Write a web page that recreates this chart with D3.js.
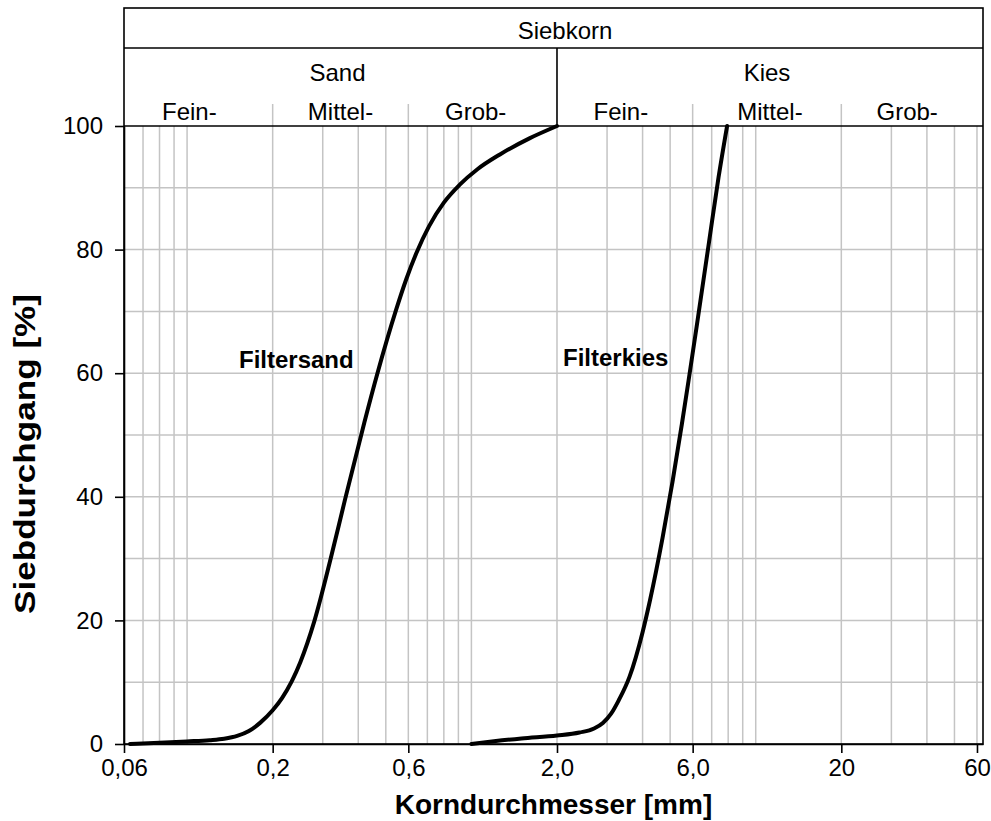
<!DOCTYPE html>
<html>
<head>
<meta charset="utf-8">
<script src="https://cdn.jsdelivr.net/npm/d3@7"></script>
<style>
  html, body { margin: 0; padding: 0; background: #fff; }
  svg { display: block; font-family: Arial, "Liberation Sans", sans-serif; }
</style>
</head>
<body>
<svg id="chart" width="991" height="821"></svg>
<script>
// Grain size distribution (Sieblinie) for filter sand and filter gravel

// x: grain diameter [mm], y: passing [%]
const sandDiameter = [0.063, 0.08, 0.1,  0.12, 0.135, 0.15, 0.165, 0.181, 0.2,  0.216, 0.25, 0.28, 0.32, 0.36, 0.42, 0.466, 0.543, 0.59, 0.64, 0.71, 0.8,  0.91, 1.05, 1.26, 1.6, 2.0];
const sandPassing  = [0,     0.2,  0.42, 0.62, 0.85,  1.3,  2.1,   3.46,  5.45, 7.46,  13.2, 19.8, 30,   39.7, 52,   59.8,  70.2,  75.2, 79.4, 83.8, 87.6, 90.5, 93,   95.4, 98,  100];

const gravelDiameter = [1.0, 1.2,  1.5, 2.0,  2.4,  2.7, 2.9,  3.1,  3.3, 3.6,  4.0,  4.25, 4.7,  5.1,  5.5,  5.8,  6.2,  6.85, 7.4,  7.93];
const gravelPassing  = [0,   0.44, 0.9, 1.36, 1.85, 2.5, 3.4,  4.9,  7.1, 10.9, 18.1, 23.3, 33.3, 42.5, 51.8, 58.7, 67.6, 81.2, 91.7, 100];

// axis ticks
const xTickValues = [0.06, 0.2, 0.6, 2, 6, 20, 60];
const xTickLabels = ["0,06", "0,2", "0,6", "2,0", "6,0", "20", "60"];
const yTickValues = [0, 20, 40, 60, 80, 100];

// soil classification boundaries [mm]
const classBounds = [0.06, 0.2, 0.6, 2, 6, 20, 63];
const mainClasses = ["Sand", "Kies"];
const subClasses  = ["Fein-", "Mittel-", "Grob-", "Fein-", "Mittel-", "Grob-"];

// layout
const margin = { left: 124, right: 983, top: 126, bottom: 744 };
const headerTop = 8, headerMid = 48, subTop = 104;
const subLabelNudge = [-9, 0, -7, -4, 3, -5];

const svg = d3.select("#chart");

const x = d3.scaleLog().domain([0.06, 63]).range([margin.left, margin.right]);
const y = d3.scaleLinear().domain([0, 100]).range([margin.bottom, margin.top]);

const gridColor = "#c4c4c4";

// minor log grid 1..9 x 10^k
const gridX = [];
[0.01, 0.1, 1, 10].forEach(dec => {
  for (let m = 1; m <= 9; m++) {
    const v = +(m * dec).toPrecision(3);
    if (v > 0.06 && v < 63) gridX.push(v);
  }
});

const grid = svg.append("g").attr("stroke", gridColor).attr("stroke-width", 1.5);
grid.selectAll("line.vx").data(gridX).join("line")
  .attr("x1", d => x(d)).attr("x2", d => x(d))
  .attr("y1", margin.top).attr("y2", margin.bottom);
grid.selectAll("line.hy").data(d3.range(10, 100, 10)).join("line")
  .attr("x1", margin.left).attr("x2", margin.right)
  .attr("y1", d => y(d)).attr("y2", d => y(d));

// header: sub-class separators (grey)
svg.append("g").attr("stroke", gridColor).attr("stroke-width", 1.5)
  .selectAll("line").data([classBounds[1], classBounds[2], classBounds[4], classBounds[5]]).join("line")
  .attr("x1", d => x(d)).attr("x2", d => x(d))
  .attr("y1", subTop).attr("y2", margin.top);

// header frame
const frame = svg.append("g").attr("stroke", "#000").attr("stroke-width", 1.6).attr("fill", "none");
frame.append("rect")
  .attr("x", margin.left).attr("y", headerTop)
  .attr("width", margin.right - margin.left).attr("height", margin.bottom - headerTop);
frame.append("line").attr("x1", margin.left).attr("x2", margin.right).attr("y1", headerMid).attr("y2", headerMid);
frame.append("line").attr("x1", margin.left).attr("x2", margin.right).attr("y1", margin.top).attr("y2", margin.top);
frame.append("line").attr("x1", x(2)).attr("x2", x(2)).attr("y1", headerMid).attr("y2", margin.top);

// header labels
const hdr = svg.append("g").attr("font-size", 24).attr("fill", "#000").attr("text-anchor", "middle");
hdr.append("text").attr("x", 565).attr("y", 39).text("Siebkorn");
hdr.selectAll("text.main").data(mainClasses).join("text")
  .attr("class", "main")
  .attr("x", (d, i) => (x(classBounds[i * 3]) + x(classBounds[i * 3 + 3])) / 2 - 3)
  .attr("y", 81).text(d => d);
hdr.selectAll("text.sub").data(subClasses).join("text")
  .attr("class", "sub")
  .attr("x", (d, i) => (x(classBounds[i]) + x(classBounds[i + 1])) / 2 + subLabelNudge[i])
  .attr("y", 120).text(d => d);

// axes
const xAxis = d3.axisBottom(x).tickValues(xTickValues)
  .tickFormat((d, i) => xTickLabels[i]).tickSize(9).tickSizeOuter(0).tickPadding(6);
const gx = svg.append("g").attr("transform", `translate(0,${margin.bottom})`).call(xAxis);
gx.select(".domain").attr("stroke", "#000").attr("stroke-width", 1.6);
gx.selectAll(".tick line").attr("stroke", "#000").attr("stroke-width", 1.6);
gx.selectAll(".tick text").attr("font-size", 24).attr("fill", "#000")
  .attr("font-family", "Arial, 'Liberation Sans', sans-serif");

const yAxis = d3.axisLeft(y).tickValues(yTickValues).tickSize(9).tickSizeOuter(0).tickPadding(12);
const gy = svg.append("g").attr("transform", `translate(${margin.left},0)`).call(yAxis);
gy.select(".domain").attr("stroke", "#000").attr("stroke-width", 1.6);
gy.selectAll(".tick line").attr("stroke", "#000").attr("stroke-width", 1.6);
gy.selectAll(".tick text").attr("font-size", 24).attr("fill", "#000")
  .attr("font-family", "Arial, 'Liberation Sans', sans-serif");

// curves
const line = d3.line().x(d => x(d[0])).y(d => y(d[1])).curve(d3.curveMonotoneX);
[[sandDiameter, sandPassing], [gravelDiameter, gravelPassing]].forEach(([xs, ys]) => {
  svg.append("path").datum(d3.zip(xs, ys))
    .attr("d", line).attr("fill", "none").attr("stroke", "#000").attr("stroke-width", 4)
    .attr("stroke-linejoin", "round").attr("stroke-linecap", "round");
});

// curve labels
svg.append("text").attr("x", 239).attr("y", 368).attr("font-size", 24).attr("font-weight", "bold").text("Filtersand");
svg.append("text").attr("x", 563).attr("y", 366).attr("font-size", 24).attr("font-weight", "bold").text("Filterkies");

// axis titles
svg.append("text").attr("x", (margin.left + margin.right) / 2).attr("y", 814)
  .attr("text-anchor", "middle").attr("font-size", 28).attr("font-weight", "bold")
  .text("Korndurchmesser [mm]");
svg.append("text").attr("transform", `translate(35,454) rotate(-90)`)
  .attr("text-anchor", "middle").attr("font-size", 30).attr("font-weight", "bold")
  .attr("textLength", 320).attr("lengthAdjust", "spacingAndGlyphs")
  .text("Siebdurchgang [%]");
</script>
</body>
</html>
